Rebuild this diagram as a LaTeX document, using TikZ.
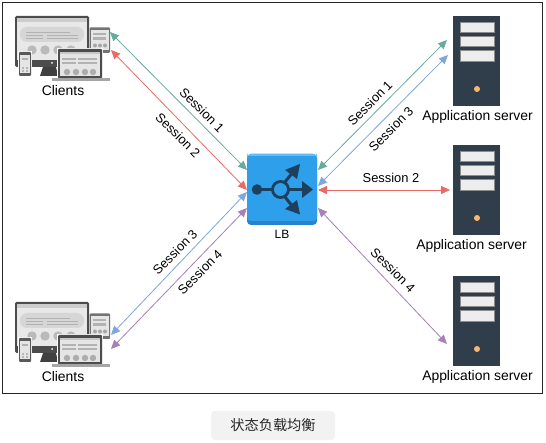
\documentclass[tikz,border=0pt]{standalone}
\usepackage{fontspec}
\setmainfont{Liberation Sans}
\newfontfamily\cjkfont{Noto Sans CJK SC}
\usetikzlibrary{arrows.meta}
\definecolor{cteal}{HTML}{67AB9F}
\definecolor{cred}{HTML}{EA6B66}
\definecolor{cblue}{HTML}{7EA6E0}
\definecolor{cpurple}{HTML}{A680B8}
\definecolor{srv}{HTML}{2F3E4A}
\definecolor{lbnavy}{HTML}{1E3F5E}
\definecolor{dotorange}{HTML}{FFB570}
\tikzset{
  x=1pt,y=-1pt,
  conn/.style={line width=0.8pt,{Triangle[length=9pt,width=8pt,fill=#1]}-{Triangle[length=9pt,width=8pt,fill=#1]},draw=#1},
  lbl/.style={font=\fontsize{13.9}{15}\selectfont,inner sep=0pt,text=black},
  sess/.style={font=\fontsize{12.9}{14}\selectfont,inner sep=0pt,text=black},
}
\newcommand{\clienticon}[1]{%
\begin{scope}[yshift=#1]
  % monitor
  \fill[black!70,rounded corners=1.5] (15,16) rectangle (89,67);
  \fill[black!9] (17,18) rectangle (87,60);
  \fill[black!20] (17,18) rectangle (87,22);
  \fill[black!16,rounded corners=7] (20,27) rectangle (84,42);
  \fill[black!30] (26,32) rectangle (70,33);
  \fill[black!30] (26,35) rectangle (43,36.5);
  \fill[black!30] (47,35) rectangle (78,36.5);
  \fill[black!30] (26,38) rectangle (43,39);
  \fill[black!30] (47,38) rectangle (78,39);
  \foreach \cx in {32,45,58,71} \fill[black!27] (\cx,50) circle (4.7);
  \fill[white] (52,63) circle (1);
  \fill[black!75] (43,67) -- (56,67) -- (58,76) -- (40,76) -- cycle;
  % tablet
  \fill[black!55,rounded corners=1] (89.5,27.5) rectangle (110,53);
  \fill[black!10] (91,30) rectangle (108.5,50);
  \fill[black!30] (93,33) rectangle (106,35);
  \fill[black!30] (93,37) rectangle (106,40);
  \foreach \cx in {95,100,105} \fill[black!35] (\cx,45.5) circle (2);
  % phone
  \fill[white] (18,51) rectangle (32,77);
  \fill[black!65,rounded corners=1] (19,52) rectangle (31,76);
  \fill[black!10] (20,55) rectangle (30,73);
  \fill[black!30] (22,58) rectangle (28,60);
  \foreach \cy in {68,71} {\fill[black!35] (23,\cy) circle (1.2);\fill[black!35] (27,\cy) circle (1.2);}
  % laptop
  \fill[white] (57,48) rectangle (103,78);
  \fill[black!70,rounded corners=1] (58,49) rectangle (102,78.5);
  \fill[black!10] (60,52) rectangle (100,76.5);
  \fill[black!22] (60,52) rectangle (100,54);
  \fill[black!30] (62,58) rectangle (76,60);
  \fill[black!30] (78,58) rectangle (97,60);
  \fill[black!30] (62,62) rectangle (76,64);
  \fill[black!30] (78,62) rectangle (97,64);
  \foreach \cx in {67,76,85,93} \fill[black!32] (\cx,72) circle (3.2);
  \fill[black!35] (52,78.5) rectangle (110,81);
\end{scope}}
\begin{document}
\begin{tikzpicture}
\useasboundingbox (0,0) rectangle (546,443);
\fill[white] (0,0) rectangle (546,443);
\draw[line width=0.9pt,draw=black!85] (2.5,2.5) rectangle (542.5,393.5);

% clients
\clienticon{0}
\clienticon{-286}
\node[lbl] (clientsA) at (63,90.5) {Clients};
\node[lbl] (clientsB) at (63,376.5) {Clients};

% servers
\foreach \oy in {0,129,260}{
\begin{scope}[yshift=-\oy]
  \fill[srv] (453,16) rectangle (500,106);
  \fill[black!7,draw=black!45,line width=0.5pt] (460,22) rectangle (494,32);
  \fill[black!7,draw=black!45,line width=0.5pt] (460,36) rectangle (494,46.5);
  \fill[black!7,draw=black!45,line width=0.5pt] (460,50) rectangle (494,61);
  \fill[dotorange] (477,89) circle (3);
\end{scope}}
\node[lbl] (srvA) at (477.5,116.5) {Application server};
\node[lbl] (srvB) at (471.5,245.5) {Application server};
\node[lbl] (srvC) at (477.5,376.5) {Application server};

% LB
\fill[rounded corners=4,fill={rgb,255:red,40;green,130;blue,205}] (247,154) rectangle (317,225);
\fill[rounded corners=4,fill={rgb,255:red,46;green,160;blue,235}] (247,154) rectangle (317,221);
\fill[rounded corners=4,fill={rgb,255:red,100;green,190;blue,245}] (247,154) rectangle (317,157);
\fill[fill={rgb,255:red,46;green,160;blue,235}] (248,156) rectangle (316,160);
\fill[lbnavy] (257,189.5) circle (5.3);
\draw[lbnavy,line width=2.2pt] (257,189.5) -- (272,189.5);
\draw[lbnavy,line width=2.8pt] (280.5,189.5) circle (8);
\draw[lbnavy,line width=3pt] (289,189.5) -- (305,189.5);
\fill[lbnavy] (313,189.5) -- (302,181) -- (302,198) -- cycle;
\draw[lbnavy,line width=3pt] (285,182) -- (293,172);
\fill[lbnavy] (300,164) -- (297,179) -- (285,170) -- cycle;
\draw[lbnavy,line width=3pt] (285,197) -- (293,207);
\fill[lbnavy] (300,214.5) -- (297,200) -- (285,209) -- cycle;
\node[inner sep=0pt,minimum width=70pt,minimum height=71pt] (lb) at (282,189.5) {};
\node[font=\fontsize{12}{13}\selectfont,inner sep=0pt] (lbtext) at (282,234) {LB};

% endpoints
\coordinate (ca1) at (110,32);
\coordinate (ca2) at (111,50);
\coordinate (cb3) at (111,335);
\coordinate (cb4) at (111,349);
\coordinate (la1) at (247,170);
\coordinate (la2) at (247,190);
\coordinate (la3) at (247,192);
\coordinate (la4) at (247,208);
\coordinate (ra1) at (318,170);
\coordinate (ra3) at (318,186);
\coordinate (ra2) at (318,190);
\coordinate (ra4) at (318,208);
\coordinate (s1a) at (447,40);
\coordinate (s1b) at (448,55);
\coordinate (s2a) at (450,190);
\coordinate (s3a) at (447,344);

\draw[conn=cteal] (ca1) -- (la1);
\draw[conn=cred] (ca2) -- (la2);
\draw[conn=cblue] (cb3) -- (la3);
\draw[conn=cpurple] (cb4) -- (la4);
\draw[conn=cteal] (ra1) -- (s1a);
\draw[conn=cblue] (ra3) -- (s1b);
\draw[conn=cred] (ra2) -- (s2a);
\draw[conn=cpurple] (ra4) -- (s3a);

\node[sess,rotate=-45] (t1) at (202,110) {Session 1};
\node[sess,rotate=-45] (t2) at (178,135) {Session 2};
\node[sess,rotate=45] (t3) at (175,252) {Session 3};
\node[sess,rotate=45] (t4) at (200,272) {Session 4};
\node[sess,rotate=45] (t5) at (370,103) {Session 1};
\node[sess,rotate=45] (t6) at (391,129) {Session 3};
\node[sess] (t7) at (391,178) {Session 2};
\node[sess,rotate=-45] (t8) at (393,270) {Session 4};

% caption
\fill[rounded corners=4,fill=black!5] (211,411) rectangle (335,440);
\node[font=\fontsize{14.2}{15}\cjkfont,inner sep=0pt,text=black!85] (cap) at (273,425) {状态负载均衡};
\end{tikzpicture}
\end{document}
